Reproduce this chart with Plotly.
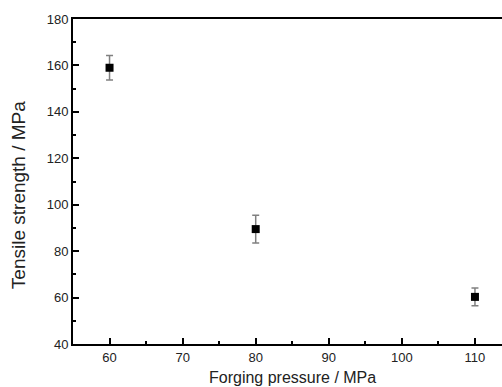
import plotly.graph_objects as go

pressure = [60, 80, 110]
strength = [159.0, 89.5, 60.3]
err = [5.3, 6.0, 3.8]

fig = go.Figure()
fig.add_trace(go.Scatter(
    x=pressure, y=strength, mode="markers",
    marker=dict(symbol="square", size=8, color="black"),
    error_y=dict(type="data", array=err, visible=True, color="#808080",
                 thickness=1.5, width=3.5),
    showlegend=False,
))

font = "Liberation Sans, Arial, sans-serif"
fig.update_layout(
    width=502, height=387,
    margin=dict(l=73, r=0, t=19, b=43),
    paper_bgcolor="white", plot_bgcolor="white",
    font=dict(family=font, size=13, color="#222"),
)
fig.update_xaxes(
    range=[55, 113.7], tickmode="linear", tick0=60, dtick=10,
    ticks="inside", ticklen=6, tickwidth=1.5, tickcolor="black",
    minor=dict(ticks="inside", ticklen=3, tickwidth=1.5, tickcolor="black", dtick=5, tick0=55),
    showline=True, linewidth=2, linecolor="black", mirror=True,
    showgrid=False, zeroline=False,
    tickfont=dict(size=13),
)
fig.update_yaxes(
    range=[40, 180], tickmode="linear", tick0=40, dtick=20,
    ticks="inside", ticklen=6, tickwidth=1.5, tickcolor="black",
    minor=dict(ticks="inside", ticklen=3, tickwidth=1.5, tickcolor="black", dtick=10),
    showline=True, linewidth=2, linecolor="black", mirror=False,
    showgrid=False, zeroline=False,
    tickfont=dict(size=13),
)
fig.add_annotation(
    text="Forging pressure / MPa", xref="paper", yref="paper",
    x=0.5105, y=0, xanchor="center", yanchor="top", yshift=-23,
    showarrow=False, font=dict(size=16),
)
fig.add_annotation(
    text="Tensile strength / MPa", xref="paper", yref="paper",
    x=0, y=0.458, xanchor="center", yanchor="middle", xshift=-55,
    textangle=-90, showarrow=False, font=dict(size=19),
)
fig.write_html(
    "out.html",
    config={"displayModeBar": False},
    post_script="document.body.style.margin='0';document.body.style.overflow='hidden';",
)
